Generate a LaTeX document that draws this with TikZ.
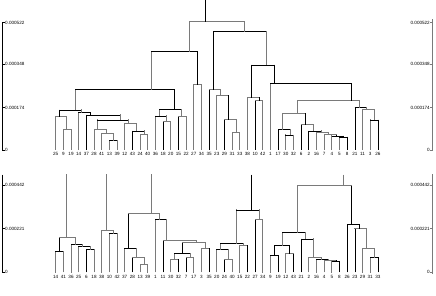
\documentclass[tikz,border=0pt]{standalone}
\usepackage{fontspec}
\setmainfont{Liberation Sans}
\tikzset{
  kk/.style={draw=black,line width=0.65pt,line cap=rect},
  gg/.style={draw=black!52,line width=1pt,line cap=rect},
  hh/.style={draw=black!52,line width=0.7pt,line cap=rect},
  lbl/.style={inner sep=0pt,font=\fontsize{4.6}{5}\selectfont},
}
\newcommand{\mrg}[6]{%
  \draw[#4] (#2) -- (#2 |- #1);
  \draw[#5] (#2 |- #1) -- (#3 |- #1);
  \draw[#6] (#3 |- #1) -- (#3);
}
\begin{document}
\begin{tikzpicture}[x=1pt,y=-1pt]
\useasboundingbox (0,0) rectangle (436,296);
% ---------- top leaves ----------
\foreach \n [count=\i from 0] in {25,9,19,14,37,28,41,13,39,12,43,24,40,36,18,20,15,22,27,34,35,23,29,31,33,38,10,42,1,17,30,32,6,2,16,7,4,5,8,21,11,3,26}{
  \coordinate (a\n) at ({55.7+7.67*\i},150);
  \node[lbl] (la\n) at ({55.7+7.67*\i},154.2) {\n};
}
% ---------- bottom leaves ----------
\foreach \n [count=\i from 0] in {14,41,36,25,6,18,38,10,42,37,28,13,39,1,11,30,32,7,17,3,35,20,24,40,15,22,27,34,9,19,12,43,21,2,16,4,5,8,26,23,29,31,33}{
  \coordinate (b\n) at ({55.7+7.67*\i},272);
  \node[lbl] (lb\n) at ({55.7+7.67*\i},276.6) {\n};
}
% ---------- top internal nodes ----------
\coordinate (t1) at (66.7,129.3);
\coordinate (t2) at (59.3,116.7);
\coordinate (t3) at (113.3,140.7);
\coordinate (t4) at (106.7,133.3);
\coordinate (t5) at (97.7,130);
\coordinate (t6) at (144,134.3);
\coordinate (t7) at (136,131);
\coordinate (t8) at (128.3,124);
\coordinate (t9) at (120.7,120);
\coordinate (t10) at (90,115);
\coordinate (t11) at (81.7,112.7);
\coordinate (t12) at (75,110);
\coordinate (t13) at (166.7,121.7);
\coordinate (t14) at (159.3,116);
\coordinate (t15) at (181.7,116.7);
\coordinate (t16) at (174,109.3);
\coordinate (t17) at (151.7,89.3);
\coordinate (t18) at (197,84.3);
\coordinate (t19) at (189.3,51.7);
\coordinate (t20) at (236,132.3);
\coordinate (t21) at (228.3,120);
\coordinate (t22) at (220.7,95.7);
\coordinate (t23) at (213.3,90);
\coordinate (t24) at (259.3,101);
\coordinate (t25) at (251,97.7);
\coordinate (t26) at (290,135);
\coordinate (t27) at (282.3,129.3);
\coordinate (t28a) at (343.3,137);
\coordinate (t28b) at (336,136);
\coordinate (t28c) at (328.3,135);
\coordinate (t28d) at (321,132.7);
\coordinate (t28e) at (313.3,131);
\coordinate (t28f) at (305.7,125);
\coordinate (t29) at (297.3,113.3);
\coordinate (t30a) at (374.3,120);
\coordinate (t30b) at (366.7,109.3);
\coordinate (t30c) at (359.3,107.7);
\coordinate (t31) at (351.7,101);
\coordinate (t32) at (274.3,83.3);
\coordinate (t33) at (266.7,65);
\coordinate (t34) at (244.3,31.7);
\coordinate (root) at (205,21.7);
\coordinate (rtop) at (205,0);
\mrg{t1}{a9}{a19}{hh}{gg}{gg}
\mrg{t2}{a25}{t1}{gg}{gg}{gg}
\mrg{t3}{a13}{a39}{hh}{kk}{gg}
\mrg{t4}{a41}{t3}{gg}{gg}{gg}
\mrg{t5}{a28}{t4}{gg}{gg}{gg}
\mrg{t6}{a24}{a40}{hh}{gg}{gg}
\mrg{t7}{a43}{t6}{kk}{kk}{gg}
\mrg{t8}{a12}{t7}{hh}{gg}{gg}
\mrg{t9}{t5}{t8}{gg}{kk}{gg}
\mrg{t10}{a37}{t9}{kk}{kk}{gg}
\mrg{t11}{a14}{t10}{gg}{kk}{kk}
\mrg{t12}{t2}{t11}{kk}{kk}{gg}
\mrg{t13}{a18}{a20}{kk}{gg}{hh}
\mrg{t14}{a36}{t13}{hh}{kk}{gg}
\mrg{t15}{a15}{a22}{kk}{gg}{hh}
\mrg{t16}{t14}{t15}{gg}{kk}{gg}
\mrg{t17}{t12}{t16}{gg}{kk}{kk}
\mrg{t18}{a27}{a34}{gg}{gg}{hh}
\mrg{t19}{t17}{t18}{gg}{kk}{kk}
\mrg{t20}{a31}{a33}{hh}{gg}{gg}
\mrg{t21}{a29}{t20}{kk}{gg}{gg}
\mrg{t22}{a23}{t21}{hh}{gg}{kk}
\mrg{t23}{a35}{t22}{kk}{gg}{hh}
\mrg{t24}{a10}{a42}{kk}{gg}{hh}
\mrg{t25}{a38}{t24}{hh}{gg}{kk}
\mrg{t26}{a30}{a32}{gg}{kk}{hh}
\mrg{t27}{a17}{t26}{kk}{kk}{gg}
\mrg{t28a}{a5}{a8}{gg}{kk}{kk}
\mrg{t28b}{a4}{t28a}{gg}{kk}{kk}
\mrg{t28c}{a7}{t28b}{hh}{gg}{kk}
\mrg{t28d}{a16}{t28c}{hh}{gg}{gg}
\mrg{t28e}{a2}{t28d}{kk}{kk}{gg}
\mrg{t28f}{a6}{t28e}{kk}{gg}{gg}
\mrg{t29}{t27}{t28f}{gg}{gg}{kk}
\mrg{t30a}{a3}{a26}{gg}{kk}{kk}
\mrg{t30b}{a11}{t30a}{gg}{gg}{gg}
\mrg{t30c}{a21}{t30b}{kk}{kk}{gg}
\mrg{t31}{t29}{t30c}{gg}{gg}{gg}
\mrg{t32}{a1}{t31}{gg}{kk}{kk}
\mrg{t33}{t25}{t32}{kk}{kk}{kk}
\mrg{t34}{t23}{t33}{kk}{kk}{gg}
\mrg{root}{t19}{t34}{gg}{gg}{gg}
\draw[kk] (root) -- (rtop);
% ---------- bottom internal nodes ----------
\coordinate (u1) at (59.3,251.7);
\coordinate (u2) at (90,249.3);
\coordinate (u3) at (82.7,246.7);
\coordinate (u4) at (75,244.3);
\coordinate (u5) at (66.7,237.7);
\coordinate (u6) at (113.3,233.3);
\coordinate (u7) at (106,230.7);
\coordinate (u8) at (144,264.3);
\coordinate (u9) at (136.7,257.7);
\coordinate (u10) at (128.3,248.3);
\coordinate (u11) at (174,259.3);
\coordinate (u12) at (190,257.7);
\coordinate (u13) at (182.7,253.3);
\coordinate (u14) at (205,248.3);
\coordinate (u15) at (196.7,242.7);
\coordinate (u16) at (166.7,240.7);
\coordinate (u17) at (159.3,219.3);
\coordinate (u18) at (151.7,214);
\coordinate (u19) at (228.3,259.3);
\coordinate (u20) at (220.7,249.3);
\coordinate (u21) at (243.3,245.7);
\coordinate (u22) at (236,243.3);
\coordinate (u23) at (259.3,220);
\coordinate (u24) at (251.7,210);
\coordinate (u25) at (274.3,255.7);
\coordinate (u26) at (289.3,254);
\coordinate (u27) at (282.3,245.7);
\coordinate (u28a) at (336,261.7);
\coordinate (u28b) at (328.3,260.7);
\coordinate (u28c) at (321,259.3);
\coordinate (u28d) at (313.3,257.7);
\coordinate (u28e) at (305.7,239);
\coordinate (u29) at (297.3,232.7);
\coordinate (u30a) at (374.3,257.7);
\coordinate (u30b) at (366.7,248.3);
\coordinate (u30c) at (359.3,229);
\coordinate (u30d) at (351.7,224.3);
\coordinate (u31) at (343.3,186);
\coordinate (s5) at (66.7,175);
\coordinate (s7) at (106,175);
\coordinate (s18) at (151.7,175);
\coordinate (s24) at (251.7,175);
\coordinate (s31) at (343.3,175);
\mrg{u1}{b14}{b41}{gg}{kk}{hh}
\mrg{u2}{b6}{b18}{kk}{kk}{hh}
\mrg{u3}{b25}{u2}{hh}{kk}{gg}
\mrg{u4}{b36}{u3}{gg}{kk}{gg}
\mrg{u5}{u1}{u4}{kk}{gg}{gg}
\mrg{u6}{b10}{b42}{hh}{kk}{gg}
\mrg{u7}{b38}{u6}{gg}{gg}{gg}
\mrg{u8}{b13}{b39}{hh}{gg}{gg}
\mrg{u9}{b28}{u8}{kk}{gg}{gg}
\mrg{u10}{b37}{u9}{hh}{kk}{gg}
\mrg{u11}{b30}{b32}{hh}{gg}{kk}
\mrg{u12}{b7}{b17}{kk}{gg}{gg}
\mrg{u13}{u11}{u12}{gg}{kk}{gg}
\mrg{u14}{b3}{b35}{hh}{gg}{kk}
\mrg{u15}{u13}{u14}{kk}{gg}{gg}
\mrg{u16}{b11}{u15}{kk}{gg}{gg}
\mrg{u17}{b1}{u16}{hh}{kk}{gg}
\mrg{u18}{u10}{u17}{kk}{gg}{gg}
\mrg{u19}{b24}{b40}{kk}{gg}{hh}
\mrg{u20}{b20}{u19}{hh}{kk}{gg}
\mrg{u21}{b15}{b22}{gg}{gg}{kk}
\mrg{u22}{u20}{u21}{gg}{kk}{gg}
\mrg{u23}{b27}{b34}{kk}{gg}{gg}
\mrg{u24}{u22}{u23}{gg}{kk}{gg}
\mrg{u25}{b9}{b19}{gg}{kk}{kk}
\mrg{u26}{b12}{b43}{gg}{gg}{kk}
\mrg{u27}{u25}{u26}{kk}{kk}{kk}
\mrg{u28a}{b5}{b8}{gg}{kk}{kk}
\mrg{u28b}{b4}{u28a}{hh}{gg}{kk}
\mrg{u28c}{b16}{u28b}{gg}{kk}{gg}
\mrg{u28d}{b2}{u28c}{hh}{gg}{gg}
\mrg{u28e}{b21}{u28d}{kk}{kk}{gg}
\mrg{u29}{u27}{u28e}{gg}{kk}{gg}
\mrg{u30a}{b31}{b33}{gg}{kk}{kk}
\mrg{u30b}{b29}{u30a}{gg}{gg}{gg}
\mrg{u30c}{b23}{u30b}{kk}{gg}{gg}
\mrg{u30d}{b26}{u30c}{kk}{kk}{kk}
\mrg{u31}{u29}{u30d}{gg}{gg}{kk}
\draw[gg] (u5) -- (s5);
\draw[gg] (u7) -- (s7);
\draw[gg] (u18) -- (s18);
\draw[kk] (u24) -- (s24);
\draw[hh] (u31) -- (s31);
% ---------- axes ----------
\coordinate (al1) at (2.5,22.7);
\coordinate (al2) at (2.5,150);
\coordinate (ar1) at (432.5,20);
\coordinate (ar2) at (432.5,150);
\coordinate (bl1) at (2.5,175);
\coordinate (bl2) at (2.5,272);
\coordinate (br1) at (432.5,175);
\coordinate (br2) at (432.5,273);
\draw[kk] (al1) -- (al2);
\draw[gg] (ar1) -- (ar2);
\draw[kk] (bl1) -- (bl2);
\draw[gg] (br1) -- (br2);
\foreach \y/\t [count=\j] in {22.7/0.000522,64.3/0.000348,107.7/0.000174,150/0}{
  \draw[kk] (2.5,\y) -- (4.5,\y);
  \node[lbl,anchor=west] (tl\j) at (5,\y) {\t};
  \draw[hh] (430.5,\y) -- (432.5,\y);
  \node[lbl,anchor=east] (tr\j) at (430,\y) {\t};
}
\foreach \y/\t [count=\j] in {185.3/0.000442,228.7/0.000221,272/0}{
  \draw[kk] (2.5,\y) -- (4.5,\y);
  \node[lbl,anchor=west] (bl\j) at (5,\y) {\t};
  \draw[hh] (430.5,\y) -- (432.5,\y);
  \node[lbl,anchor=east] (br\j) at (430,\y) {\t};
}
\end{tikzpicture}
\end{document}
